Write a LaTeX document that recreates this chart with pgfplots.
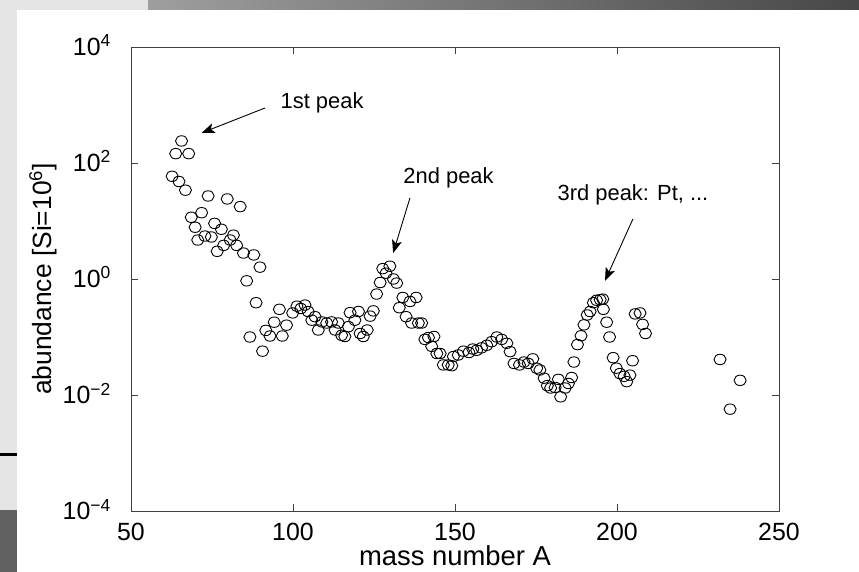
\documentclass[border=0pt]{standalone}
\usepackage{fontspec}
\setmainfont{Liberation Sans}
\usepackage{pgfplots}
\usepackage{pgfplotstable}
\pgfplotsset{compat=1.18}
\usetikzlibrary{arrows.meta}
\newcommand{\tp}[1]{10\textsuperscript{#1}}
\pgfplotstableread{
A y
62.7 59
63.8 145
64.8 48
65.6 240
66.8 34
67.8 145
68.6 11.6
69.8 7.8
70.6 4.7
71.8 13.9
72.8 5.5
73.8 27
74.8 5.3
75.8 9.1
76.6 3.0
77.9 7.2
78.6 3.8
79.7 24
80.6 4.7
81.6 5.7
82.6 3.8
83.7 17.7
84.7 2.8
85.7 0.93
86.7 0.10
87.9 2.6
88.6 0.39
89.8 1.6
90.6 0.057
91.6 0.13
92.9 0.104
94.2 0.18
95.8 0.30
96.7 0.104
98.0 0.16
99.9 0.26
101.2 0.34
102.4 0.31
103.7 0.355
104.7 0.275
105.8 0.195
106.8 0.224
107.8 0.132
108.9 0.182
110.4 0.174
111.9 0.182
113.0 0.132
114.0 0.174
115.0 0.107
116.0 0.102
117.1 0.151
117.6 0.263
119.1 0.195
120.2 0.275
120.7 0.115
121.7 0.102
122.9 0.132
123.8 0.229
124.8 0.282
125.8 0.55
126.9 0.87
127.7 1.51
128.7 1.26
129.9 1.66
131.0 1.0
132.0 0.85
132.8 0.32
133.9 0.48
134.9 0.224
136.1 0.41
136.6 0.174
138.0 0.48
138.7 0.174
139.7 0.174
140.7 0.091
141.8 0.098
142.8 0.069
143.5 0.102
144.4 0.052
145.4 0.052
146.4 0.033
147.9 0.033
149.0 0.032
149.5 0.046
151.0 0.049
152.6 0.057
154.3 0.054
155.5 0.062
156.7 0.059
158.2 0.065
159.8 0.072
161.3 0.083
162.9 0.10
164.4 0.091
166.0 0.078
167.0 0.056
168.2 0.035
169.9 0.033
171.3 0.037
172.6 0.035
174.0 0.042
175.2 0.029
176.2 0.027
177.5 0.0195
178.5 0.0145
179.5 0.0132
180.9 0.0135
181.9 0.0186
182.6 0.0093
184.0 0.0132
185.0 0.0158
186.0 0.020
186.7 0.037
187.8 0.074
188.9 0.105
189.8 0.162
190.8 0.24
191.7 0.275
192.7 0.39
193.7 0.43
194.8 0.44
195.6 0.45
195.8 0.30
196.8 0.18
197.7 0.10
198.8 0.044
199.8 0.029
200.9 0.0234
202.2 0.021
203.0 0.017
204.0 0.022
204.8 0.039
205.6 0.25
207.1 0.26
207.9 0.165
208.8 0.115
231.8 0.041
234.9 0.0057
238.0 0.0179
}\abund
\begin{document}
\begin{tikzpicture}[x=1bp,y=1bp]
\useasboundingbox (0,0) rectangle (859,572);
\fill[white] (0,0) rectangle (859,572);
\fill[black!10] (0,562) rectangle (148,572);
\shade[left color=black!38, right color=black!72] (148,562) rectangle (859,572);
\fill[black!10] (0,62) rectangle (17,562);
\fill[black] (0,115.5) rectangle (17,118.5);
\fill[black!62] (0,0) rectangle (17,62);
\begin{axis}[
  at={(131bp,61bp)}, anchor=south west,
  scale only axis, width=648bp, height=464bp,
  xmin=50, xmax=250, ymode=log, ymin=1e-4, ymax=1e4,
  xtick={50,100,150,200,250}, xticklabels={50,100,150,200,250},
  ytick={1e-4,1e-2,1,1e2,1e4},
  yticklabels={\tp{−4},\tp{−2},\tp{0},\tp{2},\tp{4}},
  yminorticks=false, xminorticks=false,
  tick align=inside, major tick length=7bp,
  axis line style={black!75, line width=0.8bp},
  every tick/.style={black!75, line width=0.8bp},
  tick label style={font=\fontsize{25}{25}\selectfont, inner sep=0pt},
  xticklabel style={anchor=base, yshift=-29bp},
  yticklabel style={anchor=base east, xshift=-20bp, yshift=-9bp},
  every axis x label/.style={at={(axis description cs:0.5,-0.1164)}, anchor=base, inner sep=0pt, font=\fontsize{27.5}{27.5}\selectfont},
  every axis y label/.style={at={(axis description cs:-0.1358,0.5)}, anchor=center, rotate=90, font=\fontsize{26.5}{26.5}\selectfont},
  xlabel={mass number A}, ylabel={abundance [Si=\tp{6}]},
  clip=false,
]
\addplot[only marks, mark=o, mark size=5.5bp, mark options={black, line width=0.9bp, xscale=1.1, yscale=0.95}] table[x=A, y=y] {\abund};
\node[anchor=west, font=\fontsize{22}{22}\selectfont] at (axis cs:95.1,1080) {1st peak};
\draw[black, line width=0.9bp, -{Stealth[length=13bp,width=10bp,inset=3bp]}] (axis cs:91.4,890) -- (axis cs:71.8,330);
\node[anchor=west, font=\fontsize{22}{22}\selectfont] at (axis cs:133,55) {2nd peak};
\draw[black, line width=0.9bp, -{Stealth[length=13bp,width=10bp,inset=3bp]}] (axis cs:136.1,25) -- (axis cs:130.9,2.8);
\node[anchor=west, font=\fontsize{22}{22}\selectfont] at (axis cs:180.6,28) {3rd peak: Pt, ...};
\draw[black, line width=0.9bp, -{Stealth[length=13bp,width=10bp,inset=3bp]}] (axis cs:204.9,10.8) -- (axis cs:196.3,0.93);
\end{axis}
\end{tikzpicture}
\end{document}
